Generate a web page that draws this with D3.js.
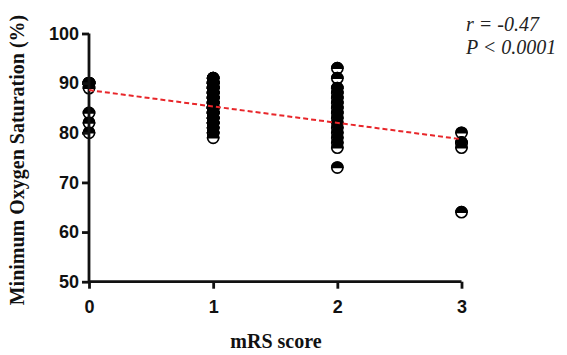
<!DOCTYPE html>
<html>
<head>
<meta charset="utf-8">
<script src="https://cdn.jsdelivr.net/npm/d3@7"></script>
<style>
  body { margin: 0; background: #fff; }
  .tick text { font-family: "Liberation Sans", Arial, sans-serif; font-weight: bold; font-size: 18px; fill: #111; }
  .axis-title { font-family: "Liberation Serif", "Times New Roman", serif; font-weight: bold; font-size: 20px; fill: #111; }
  .stat { font-family: "Liberation Serif", "Times New Roman", serif; font-style: italic; font-size: 20px; fill: #222; }
</style>
</head>
<body>
<svg id="chart" width="567" height="355"></svg>
<script>
/*
 * Data
 */
var mrsScores = [0, 1, 2, 3];
var xTickLabels = ['0', '1', '2', '3'];
var yTickValues = [50, 60, 70, 80, 90, 100];

var satMrs0 = [90, 90, 90, 89, 84, 82, 80];
var satMrs1 = [91, 91, 90, 90, 90, 89, 89, 89, 88, 88, 88, 87, 87, 87, 86, 86, 86,
               85, 85, 85, 85, 84, 84, 84, 83, 83, 83, 82, 82, 82, 81, 81, 80, 80, 79];
var satMrs2 = [93, 91, 89, 88, 87, 86, 85, 84, 83, 82, 81, 80, 79, 78, 77, 73];
var satMrs3 = [80, 78, 78, 77, 64];

// regression line (intercept, slope) and stats text
var fitIntercept = 88.6;
var fitSlope = -3.3;
var statLines = ['r = -0.47', 'P < 0.0001'];

var svg = d3.select('#chart');
var x = d3.scaleLinear().domain([0, 3]).range([89, 461.5]);
var y = d3.scaleLinear().domain([50, 100]).range([281.7, 33.5]);

// points
var groups = [satMrs0, satMrs1, satMrs2, satMrs3];
var points = [];
groups.forEach(function (vals, i) {
    vals.forEach(function (v) { points.push({ s: mrsScores[i], v: v }); });
});
// draw lower values last so the bottom one shows its white half
points.sort(function (a, b) { return b.v - a.v; });

var r = 5.6;
var topHalf = 'M' + (-r) + ',0 A' + r + ',' + r + ' 0 0 1 ' + r + ',0 Z';
var dots = svg.append('g').selectAll('g').data(points).enter().append('g')
    .attr('transform', function (d) { return 'translate(' + x(d.s) + ',' + y(d.v) + ')'; });
dots.append('circle').attr('r', r).attr('fill', '#fff').attr('stroke', '#000').attr('stroke-width', 1.6);
dots.append('path').attr('d', topHalf).attr('fill', '#000').attr('stroke', '#000').attr('stroke-width', 1.6);

// axes
var yAxis = d3.axisLeft(y).tickValues(yTickValues).tickSize(7).tickPadding(3);
var gy = svg.append('g').attr('transform', 'translate(' + x(0) + ',0)').call(yAxis);
var xAxis = d3.axisBottom(x).tickValues(mrsScores).tickFormat(function (d, i) { return xTickLabels[i]; })
    .tickSize(7).tickPadding(12);
var gx = svg.append('g').attr('transform', 'translate(0,' + y(50) + ')').call(xAxis);
[gx, gy].forEach(function (g) {
    g.select('.domain').attr('stroke', '#111').attr('stroke-width', 2.8);
    g.selectAll('.tick line').attr('stroke', '#111').attr('stroke-width', 2.8);
});
gy.select('.domain').attr('d', 'M0,' + y(100) + 'V' + y(50));
gx.select('.domain').attr('d', 'M' + x(0) + ',0H' + x(3));

// regression line
svg.append('line')
    .attr('x1', x(0)).attr('y1', y(fitIntercept))
    .attr('x2', x(3)).attr('y2', y(fitIntercept + 3 * fitSlope))
    .attr('stroke', '#e8262a').attr('stroke-width', 2).attr('stroke-dasharray', '5,3');

// titles
svg.append('text').attr('class', 'axis-title')
    .attr('text-anchor', 'middle')
    .attr('transform', 'translate(24,160) rotate(-90)')
    .text('Minimum Oxygen Saturation (%)');
svg.append('text').attr('class', 'axis-title')
    .attr('text-anchor', 'middle')
    .attr('x', 276).attr('y', 348)
    .text('mRS score');

svg.append('g').selectAll('text').data(statLines).enter().append('text')
    .attr('class', 'stat')
    .attr('x', 466).attr('y', function (d, i) { return 31 + i * 23; })
    .text(function (d) { return d; });
</script>
</body>
</html>
